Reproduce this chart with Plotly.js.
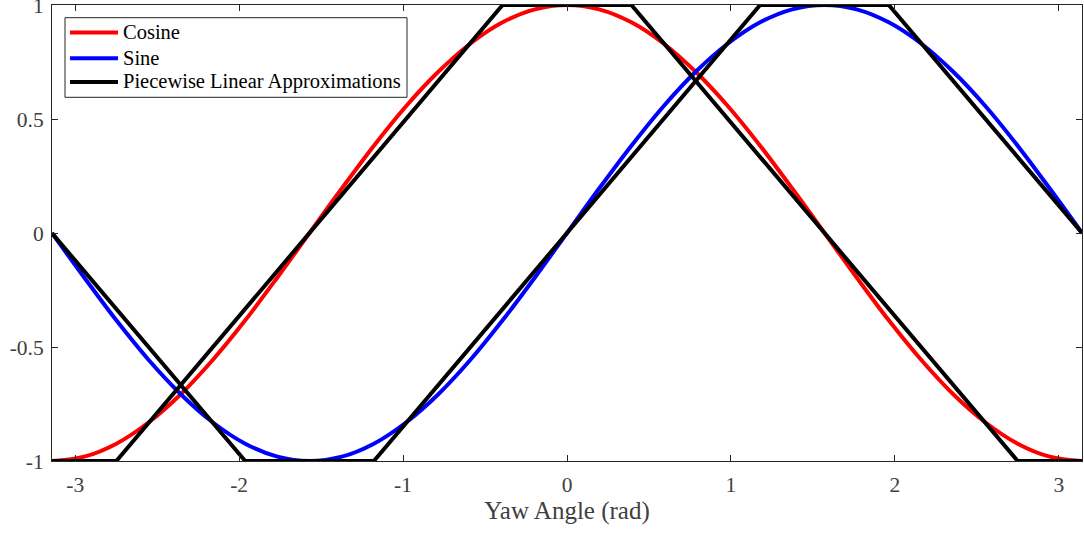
<!DOCTYPE html>
<html>
<head>
<meta charset="utf-8">
<script src="https://cdn.plot.ly/plotly-3.0.1.min.js"></script>
<style>html,body{margin:0;padding:0;background:#fff;}#chart{width:1084px;height:533px;}</style>
</head>
<body>
<div id="chart"></div>
<script>
// Sampled yaw angles (rad)
const angleX = [-3.142,-2.945,-2.749,-2.553,-2.356,-2.160,-1.963,-1.767,-1.571,-1.374,-1.178,-0.982,-0.785,-0.589,-0.393,-0.196,0,
                0.196,0.393,0.589,0.785,0.982,1.178,1.374,1.571,1.767,1.963,2.160,2.356,2.553,2.749,2.945,3.142];
const cosineY = [-1,-0.981,-0.924,-0.831,-0.707,-0.556,-0.383,-0.195,0,0.195,0.383,0.556,0.707,0.831,0.924,0.981,1,
                 0.981,0.924,0.831,0.707,0.556,0.383,0.195,0,-0.195,-0.383,-0.556,-0.707,-0.831,-0.924,-0.981,-1];
const sineY = [0,-0.195,-0.383,-0.556,-0.707,-0.831,-0.924,-0.981,-1,-0.981,-0.924,-0.831,-0.707,-0.556,-0.383,-0.195,0,
               0.195,0.383,0.556,0.707,0.831,0.924,0.981,1,0.981,0.924,0.831,0.707,0.556,0.383,0.195,0];
// Piecewise linear approximations
const cosApproxX = [-3.142,-2.749,-0.393,0.393,2.749,3.142];
const cosApproxY = [-1,-1,1,1,-1,-1];
const sinApproxX = [-3.142,-1.963,-1.178,1.178,1.963,3.142];
const sinApproxY = [0,-1,-1,1,1,0];
// Ticks
const xTickVals = [-3,-2,-1,0,1,2,3];
const xTickText = ['-3','-2','-1','0','1','2','3'];
const yTickVals = [-1,-0.5,0,0.5,1];
const yTickText = ['-1','-0.5','0','0.5','1'];
// Legend entries
const legendNames = ['Cosine','Sine','Piecewise Linear Approximations'];
const legendColors = ['#ff0000','#0000ff','#000000'];

const font = 'Liberation Serif, Times New Roman, serif';
const W = 1084, H = 533, M = {l: 52, r: 2, t: 5, b: 72};
const plotW = W - M.l - M.r, plotH = H - M.t - M.b;
const px2x = p => (p - M.l) / plotW;
const px2y = p => 1 - (p - M.t) / plotH;

const traces = [
  {x: angleX, y: cosineY, type: 'scatter', mode: 'lines', name: legendNames[0],
   line: {color: legendColors[0], width: 4, shape: 'spline'}},
  {x: angleX, y: sineY, type: 'scatter', mode: 'lines', name: legendNames[1],
   line: {color: legendColors[1], width: 4, shape: 'spline'}},
  {x: cosApproxX, y: cosApproxY, type: 'scatter', mode: 'lines', name: legendNames[2],
   line: {color: legendColors[2], width: 4}},
  {x: sinApproxX, y: sinApproxY, type: 'scatter', mode: 'lines', name: legendNames[2],
   line: {color: legendColors[2], width: 4}}
];

// Legend drawn as a boxed key (positions in pixels of the figure)
const rowY = [32.5, 58.3, 82];
const shapes = [{type: 'rect', xref: 'paper', yref: 'paper',
  x0: px2x(65), x1: px2x(407), y0: px2y(97.3), y1: px2y(17.7),
  fillcolor: '#ffffff', line: {color: '#262626', width: 1}, layer: 'above'}];
const annotations = [];
legendNames.forEach((n, i) => {
  shapes.push({type: 'line', xref: 'paper', yref: 'paper',
    x0: px2x(70), x1: px2x(118), y0: px2y(rowY[i]), y1: px2y(rowY[i]),
    line: {color: legendColors[i], width: 4}, layer: 'above'});
  annotations.push({xref: 'paper', yref: 'paper', x: px2x(121), y: px2y(rowY[i] - 0.5),
    xanchor: 'left', yanchor: 'middle', showarrow: false, text: n,
    font: {family: font, size: 20.5, color: '#000000'}});
});

function axisBase() {
  return {
    showgrid: false, zeroline: false, showline: true, linecolor: '#262626', linewidth: 1,
    mirror: 'ticks', ticks: 'inside', ticklen: 6, tickcolor: '#262626',
    ticklabeloverflow: 'allow',
    tickfont: {family: font, size: 21.5, color: '#404040'}
  };
}
const layout = {
  width: W, height: H,
  margin: M,
  paper_bgcolor: '#ffffff', plot_bgcolor: '#ffffff',
  font: {family: font, color: '#404040'},
  showlegend: false,
  xaxis: Object.assign(axisBase(), {
    range: [-3.1416, 3.1416], tickvals: xTickVals, ticktext: xTickText,
    ticklabelstandoff: 4,
    title: {text: 'Yaw Angle (rad)', font: {family: font, size: 25, color: '#404040'}, standoff: 4}
  }),
  yaxis: Object.assign(axisBase(), {
    range: [-1, 1], tickvals: yTickVals, ticktext: yTickText,
    ticklabelstandoff: 3
  }),
  shapes: shapes,
  annotations: annotations
};
Plotly.newPlot('chart', traces, layout, {displayModeBar: false, staticPlot: true});
</script>
</body>
</html>
